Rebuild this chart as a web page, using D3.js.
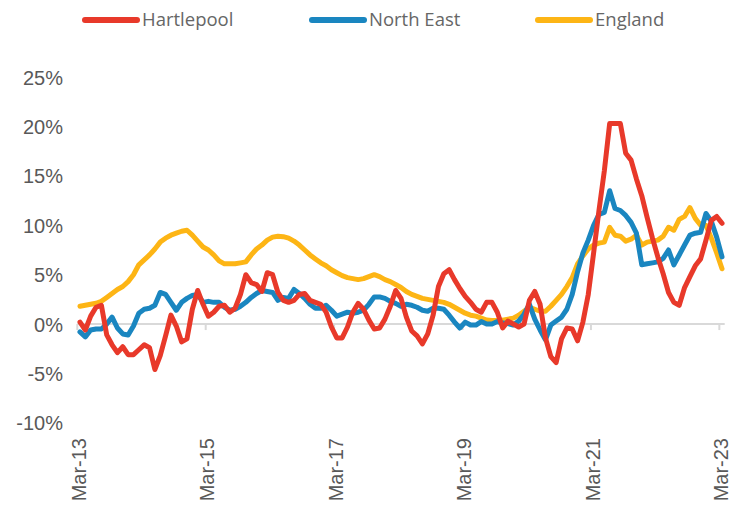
<!DOCTYPE html>
<html>
<head>
<meta charset="utf-8">
<script src="https://cdn.jsdelivr.net/npm/d3@7"></script>
<style>
  html, body { margin: 0; padding: 0; background: #fff; }
  svg { display: block; }
</style>
</head>
<body>
<svg id="chart" width="731" height="513"></svg>
<script>
// ---- Data ----
const seriesNames = ["Hartlepool", "North East", "England"];
const seriesColors = ["#E8392A", "#1A86C0", "#FDB515"];

const months = d3.timeMonth.range(new Date(2013, 2, 1), new Date(2023, 3, 1));
const fmt = d3.timeFormat("%b-%y");
const categories = months.map(fmt);

const tickLabels = ["Mar-13", "Mar-15", "Mar-17", "Mar-19", "Mar-21", "Mar-23"];
const yTicks = [-10, -5, 0, 5, 10, 15, 20, 25];

const hartlepool = [
  0.2, -0.6, 0.8, 1.7, 1.9, -1.1, -2.1, -2.9, -2.3, -3.1,
  -3.1, -2.6, -2.1, -2.4, -4.6, -3.2, -1.2, 0.9, -0.2, -1.8,
  -1.5, 1.5, 3.4, 2.0, 0.8, 1.2, 1.8, 1.9, 1.2, 1.6,
  3.0, 5.0, 4.2, 4.0, 3.3, 5.2, 5.0, 3.2, 2.4, 2.2,
  2.4, 3.0, 3.1, 2.4, 2.2, 2.0, 1.2, -0.3, -1.4, -1.4,
  -0.3, 1.2, 2.1, 1.5, 0.4, -0.5, -0.4, 0.5, 1.8, 3.4,
  2.6, 0.7, -0.7, -1.2, -2.0, -1.0, 0.9, 3.8, 5.1, 5.5,
  4.5, 3.6, 2.8, 2.2, 1.5, 1.2, 2.2, 2.2, 1.2, -0.4,
  0.3, 0.0, -0.3, 0.0, 2.4, 3.3, 2.0, -1.4, -3.3, -3.9,
  -1.5, -0.4, -0.5, -1.7, 0.2, 3.0, 7.2, 11.5, 15.5, 20.3,
  20.3, 20.3, 17.3, 16.6, 14.7, 13.0, 10.8, 8.7, 6.8, 5.1,
  3.2, 2.2, 1.9, 3.7, 4.8, 5.9, 6.6, 8.5, 10.5, 10.9,
  10.2
];

const northEast = [
  -0.8, -1.3, -0.6, -0.5, -0.5, 0.0, 0.7, -0.4, -1.0, -1.1,
  -0.2, 1.1, 1.5, 1.6, 1.9, 3.2, 3.0, 2.2, 1.4, 2.2,
  2.6, 2.9, 3.0, 2.2, 2.3, 2.2, 2.2, 1.7, 1.4, 1.5,
  1.8, 2.2, 2.7, 3.1, 3.4, 3.3, 3.2, 2.4, 2.7, 2.6,
  3.5, 3.1, 2.6, 2.0, 1.6, 1.6, 1.9, 1.4, 0.8, 1.0,
  1.2, 1.1, 1.2, 1.4, 2.0, 2.75, 2.75, 2.6, 2.3, 2.1,
  1.8, 2.0, 1.9, 1.7, 1.4, 1.3, 1.6, 1.6, 1.5, 0.9,
  0.2, -0.4, 0.2, -0.1, -0.1, 0.25, 0.0, 0.0, 0.25, 0.1,
  0.05, -0.1, 0.3, 1.0, 2.0, 0.5, -0.6, -1.6, -0.1, 0.3,
  0.7, 1.5, 3.0, 5.3, 7.2, 8.5, 10.0, 11.1, 11.3, 13.5,
  11.7, 11.5, 11.0, 10.3, 9.2, 6.0, 6.1, 6.2, 6.3, 6.65,
  7.5, 6.0, 7.0, 8.0, 9.0, 9.2, 9.3, 11.2, 10.4, 8.8,
  6.8
];

const england = [
  1.8, 1.9, 2.0, 2.1, 2.3, 2.7, 3.1, 3.5, 3.8, 4.3,
  5.0, 6.0, 6.5, 7.0, 7.6, 8.3, 8.7, 9.0, 9.2, 9.4,
  9.5, 9.0, 8.4, 7.8, 7.5, 7.0, 6.4, 6.1, 6.1, 6.1,
  6.2, 6.3, 7.0, 7.6, 8.0, 8.5, 8.8, 8.9, 8.85, 8.7,
  8.4, 8.0, 7.5, 7.0, 6.6, 6.2, 5.9, 5.5, 5.2, 4.9,
  4.7, 4.6, 4.5, 4.6, 4.8, 5.0, 4.8, 4.5, 4.3, 4.0,
  3.7, 3.3, 3.0, 2.8, 2.6, 2.5, 2.4, 2.3, 2.2, 2.0,
  1.7, 1.4, 1.1, 0.9, 0.8, 0.6, 0.4, 0.35, 0.35, 0.4,
  0.5, 0.6, 0.9, 1.3, 1.7, 1.5, 1.3, 1.3, 1.8, 2.4,
  3.0, 3.8, 4.7, 6.1, 6.9, 7.6, 8.0, 8.2, 8.3, 9.8,
  9.0, 8.9, 8.4, 8.6, 9.0, 8.0, 8.3, 8.4, 8.5, 8.9,
  9.8, 9.5, 10.6, 10.9, 11.8, 10.7, 10.0, 10.0, 8.7, 7.2,
  5.6
];

const seriesValues = [hartlepool, northEast, england];

// ---- Layout ----
const svg = d3.select("#chart");
const x = d3.scaleBand().domain(categories).range([77.3, 724.7]).paddingInner(0).paddingOuter(0);
const y = d3.scaleLinear().domain([-10, 25]).range([422.8, 77.2]);

const textColor = "#595959";
const axisFont = "'Liberation Sans', Arial, sans-serif";

// y-axis labels
const yAxis = d3.axisLeft(y).tickValues(yTicks).tickFormat(d => d + "%").tickSize(0).tickPadding(0);
const yg = svg.append("g").attr("transform", "translate(63,0)").call(yAxis);
yg.select(".domain").remove();
yg.selectAll("text").attr("fill", textColor).style("font-family", axisFont).style("font-size", "20px").attr("dy", "0.35em");

// zero line with category axis ticks
const xg = svg.append("g").attr("transform", `translate(0,${y(0)})`);
xg.append("line")
  .attr("x1", x.range()[0]).attr("x2", x.range()[1])
  .attr("y1", 0).attr("y2", 0)
  .attr("stroke", "#D9D9D9").attr("stroke-width", 2);
xg.selectAll("line.tick")
  .data(tickLabels)
  .join("line")
  .attr("class", "tick")
  .attr("x1", d => x(d)).attr("x2", d => x(d))
  .attr("y1", 0).attr("y2", 6)
  .attr("stroke", "#D9D9D9").attr("stroke-width", 2);

// x labels (rotated) placed below the plot
const lg = svg.append("g");
lg.selectAll("text")
  .data(tickLabels)
  .join("text")
  .attr("transform", d => `translate(${x(d) + x.bandwidth() / 2 + 6},438) rotate(-90)`)
  .attr("text-anchor", "end")
  .attr("fill", textColor)
  .style("font-family", axisFont)
  .style("font-size", "20px")
  .text(d => d);

// lines
const line = d3.line()
  .x((d, i) => x(categories[i]) + x.bandwidth() / 2)
  .y(d => y(d));

const drawOrder = [2, 1, 0];
drawOrder.forEach(k => {
  svg.append("path")
    .datum(seriesValues[k])
    .attr("fill", "none")
    .attr("stroke", seriesColors[k])
    .attr("stroke-width", 5)
    .attr("stroke-linejoin", "round")
    .attr("stroke-linecap", "round")
    .attr("d", line);
});

// legend
const legendX = [83, 310, 536];
const leg = svg.append("g");
seriesNames.forEach((name, k) => {
  leg.append("line")
    .attr("x1", legendX[k] + 2).attr("x2", legendX[k] + 54)
    .attr("y1", 20).attr("y2", 20)
    .attr("stroke", seriesColors[k]).attr("stroke-width", 6)
    .attr("stroke-linecap", "round");
  leg.append("text")
    .attr("x", legendX[k] + 59).attr("y", 20)
    .attr("dy", "0.35em")
    .attr("fill", "#666")
    .style("font-family", "'Open Sans', sans-serif")
    .style("font-size", "18.5px")
    .text(name);
});
</script>
</body>
</html>
